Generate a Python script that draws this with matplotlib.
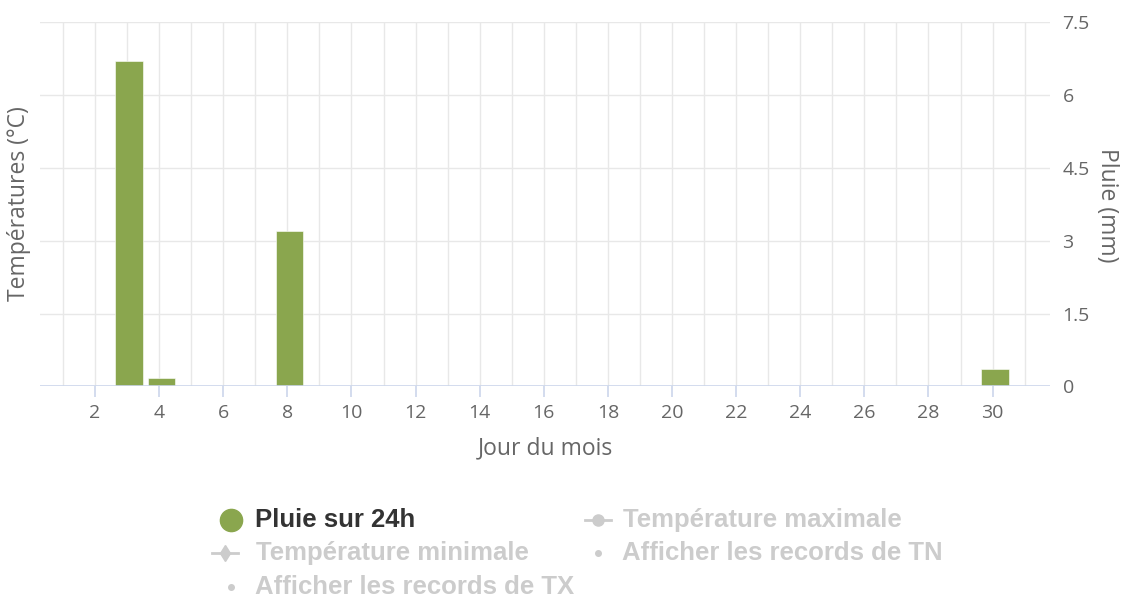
import numpy as np
import matplotlib
matplotlib.use("Agg")
import matplotlib.pyplot as plt
from matplotlib.lines import Line2D

# Rain per day (mm), only days with rain
rain_days = [3, 4, 8, 30]
rain_mm = [6.7, 0.17, 3.2, 0.36]

days = np.arange(1, 32)
tick_days = list(range(2, 31, 2))
rain_ticks = [0, 1.5, 3, 4.5, 6, 7.5]
rain_tick_labels = ["0", "1.5", "3", "4.5", "6", "7.5"]

GREEN = "#8aa64e"
GRID = "#e8e8e8"
AXIS = "#ccd6eb"
TXT = "#666666"
HIDDEN = "#cccccc"

plt.rcParams['font.family'] = ['Open Sans', 'DejaVu Sans']

W, H = 1121, 599
fig = plt.figure(figsize=(W / 100, H / 100), dpi=100)
ax = fig.add_axes([40 / W, 1 - 386.3 / H, (1050 - 40) / W, (386.3 - 22.3) / H])

ax.bar(np.array(rain_days) + 0.07, rain_mm, width=0.86, color=GREEN, edgecolor="white",
       linewidth=0.4, zorder=3)

ax.set_xlim(0.285, 31.79)
ax.set_ylim(0, 7.5)

# grid lines
for d in days:
    ax.axvline(d, color=GRID, lw=1, zorder=1)
for v in rain_ticks[1:]:
    ax.axhline(v, color=GRID, lw=1, zorder=1)
ax.axhline(0, color=AXIS, lw=1.2, zorder=4)

for s in ax.spines.values():
    s.set_visible(False)

ax.set_xticks(tick_days)
ax.set_xticklabels([str(d) for d in tick_days])
ax.tick_params(axis="x", length=8, width=1.2, color=AXIS, labelcolor=TXT, labelsize=14, pad=5)

ax.yaxis.tick_right()
ax.set_yticks(rain_ticks)
ax.set_yticklabels(rain_tick_labels)
ax.tick_params(axis="y", length=0, labelcolor=TXT, labelsize=14, pad=9)

ax.set_xlabel("Jour du mois", color=TXT, fontsize=16.5, labelpad=10)
fig.text(19 / W, 1 - 204 / H, "Températures (°C)", rotation=90, color=TXT, fontsize=16.5,
         ha="center", va="center")
fig.text(1107 / W, 1 - 205 / H, "Pluie (mm)", rotation=270, color=TXT, fontsize=16.5,
         ha="center", va="center")

# legend, laid out like the original (two columns, hidden series greyed)
leg_font = {"family": ["Liberation Sans", "DejaVu Sans"], "weight": "bold", "size": 18.5}


def fig_y(py):
    return 1 - py / H


def leg_item(x_sym, x_txt, py, label, kind, color):
    y = fig_y(py)
    if kind == "circle":
        fig.add_artist(Line2D([x_sym / W], [y], ls="none", marker="o", ms=16, color=GREEN,
                              transform=fig.transFigure))
    elif kind == "dot":
        fig.add_artist(Line2D([x_sym / W], [y], ls="none", marker="o", ms=4, color=HIDDEN,
                              transform=fig.transFigure))
    else:
        fig.add_artist(Line2D([(x_sym - 13) / W, (x_sym + 13) / W], [y, y], color=HIDDEN, lw=2,
                              transform=fig.transFigure))
        fig.add_artist(Line2D([x_sym / W], [y], ls="none", marker="o" if kind == "line_o" else "d",
                              ms=8, color=HIDDEN, transform=fig.transFigure))
    fig.text(x_txt / W, y, label, color=color, ha="left", va="center", **leg_font)


leg_item(231, 255, 520, "Pluie sur 24h", "circle", "#333333")
leg_item(598, 623, 520, "Température maximale", "line_o", HIDDEN)
leg_item(225, 256, 553, "Température minimale", "line_d", HIDDEN)
leg_item(598, 622, 553, "Afficher les records de TN", "dot", HIDDEN)
leg_item(231, 255, 587, "Afficher les records de TX", "dot", HIDDEN)

fig.savefig("out.png", dpi=100, facecolor="white")
